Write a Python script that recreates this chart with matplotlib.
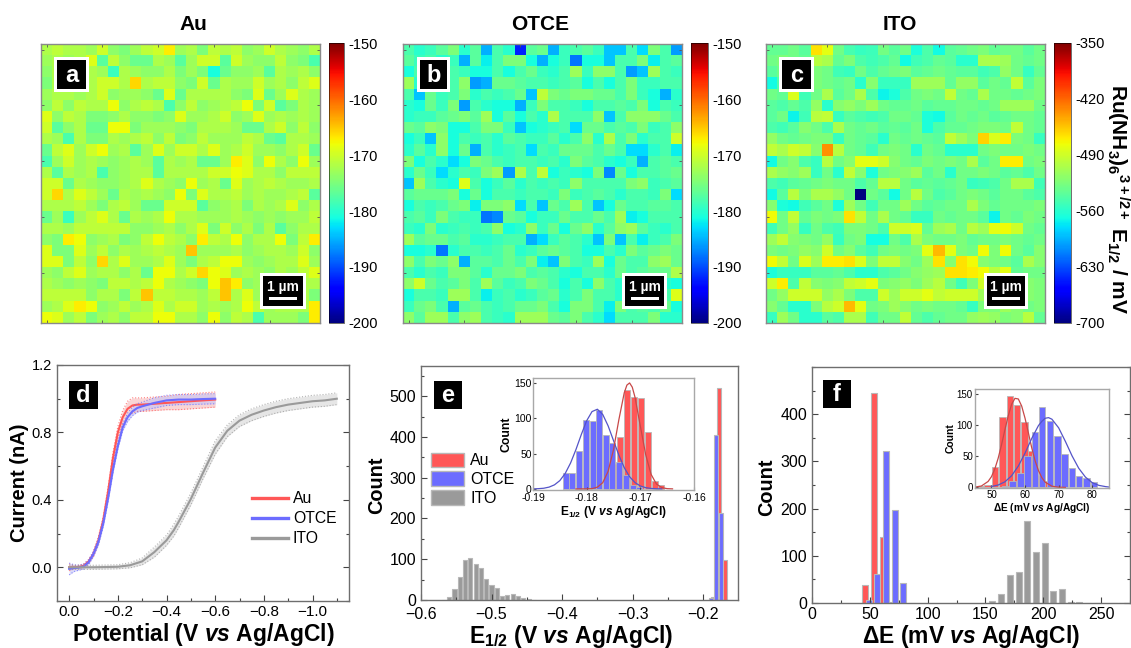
import matplotlib as mpl
mpl.use('Agg')
mpl.rcParams['font.family'] = 'Liberation Sans'
mpl.rcParams['mathtext.fontset'] = 'custom'
mpl.rcParams['mathtext.rm'] = 'Liberation Sans'
mpl.rcParams['mathtext.bf'] = 'Liberation Sans:bold'
mpl.rcParams['mathtext.bfit'] = 'Liberation Sans:italic:bold'
mpl.rcParams['mathtext.it'] = 'Liberation Sans:italic'

import matplotlib.pyplot as plt
from matplotlib.patches import Rectangle, Patch
from matplotlib.lines import Line2D
from matplotlib.ticker import MultipleLocator
import numpy as np

# E1/2 maps, magnitudes in mV (all values are negative)
au_map = [
    [172,171,172,172,173,170,174,175,173,171,170,167,173,172,175,171,172,171,174,173,170,172,173,174,172],
    [173,172,173,172,169,177,171,174,176,176,172,173,177,173,170,170,177,170,173,174,174,171,174,175,178],
    [174,172,173,174,172,173,179,172,173,174,174,172,175,173,175,181,176,174,174,173,177,172,173,172,174],
    [175,172,173,172,172,170,170,172,166,172,171,171,174,175,170,176,172,173,173,170,173,172,174,171,169],
    [173,172,172,173,172,170,174,173,173,174,176,169,176,172,172,172,172,174,175,169,176,173,169,172,173],
    [174,171,174,171,172,172,168,174,172,171,172,178,174,171,174,173,172,171,168,175,170,177,175,172,173],
    [169,174,171,172,175,175,174,172,174,174,175,174,169,173,173,172,170,174,173,169,173,172,173,172,173],
    [170,177,174,172,176,176,168,168,175,173,173,173,174,175,172,172,172,173,176,176,172,170,174,171,174],
    [172,173,178,172,175,175,172,173,172,171,174,171,175,174,171,173,173,173,171,172,176,177,172,172,173],
    [176,171,169,173,170,168,173,172,177,173,169,173,170,170,172,169,173,172,170,173,173,174,172,170,176],
    [178,173,170,173,172,173,174,173,172,173,177,172,173,172,176,176,173,167,169,174,168,172,174,168,173],
    [172,177,172,173,172,178,174,173,172,172,177,172,172,172,172,170,170,168,169,172,172,174,171,171,171],
    [170,170,176,172,173,174,174,173,172,169,172,173,174,168,173,172,176,169,173,172,171,172,173,173,172],
    [170,166,172,169,171,173,176,172,173,172,173,174,168,175,169,172,172,171,173,172,173,173,172,171,177],
    [172,172,172,171,173,175,172,171,173,176,176,170,170,170,177,174,173,172,175,172,173,172,169,174,172],
    [176,173,179,173,171,169,172,176,172,173,172,168,172,172,173,173,173,172,173,174,173,174,173,173,171],
    [172,172,173,171,171,171,171,171,174,174,173,172,174,172,169,175,170,174,172,175,172,177,174,172,172],
    [174,175,167,168,174,173,172,175,174,171,168,171,172,174,167,171,172,168,174,172,172,168,175,171,167],
    [169,175,175,169,173,171,174,172,173,172,171,172,173,165,173,173,173,172,174,173,172,172,173,170,174],
    [169,169,175,171,174,166,172,169,173,173,172,169,173,175,172,171,168,168,173,174,173,172,172,169,173],
    [173,174,171,169,173,172,172,174,172,176,168,168,172,170,166,168,169,173,172,173,174,172,173,171,169],
    [172,173,174,173,174,175,171,171,172,171,168,172,173,174,175,168,165,167,174,173,172,173,172,172,172],
    [171,171,171,171,174,172,172,175,171,165,171,171,172,172,173,171,165,172,169,173,172,172,173,172,175],
    [173,172,169,167,168,174,173,171,173,172,169,172,170,170,173,172,173,172,168,171,173,172,172,172,167],
    [168,169,173,171,175,173,172,174,171,171,168,168,172,172,174,168,174,171,172,178,173,173,173,175,167],
]
otce_map = [
    [178,180,179,177,175,180,177,185,178,180,192,177,176,185,179,178,177,179,184,184,178,183,175,178,186],
    [177,179,178,180,179,185,177,182,178,175,175,181,185,181,179,188,181,181,184,178,178,175,182,178,177],
    [181,178,179,177,178,179,181,181,178,181,178,176,179,180,178,173,179,174,174,178,186,184,173,178,179],
    [173,180,178,179,178,174,186,185,176,176,177,178,178,179,178,177,181,178,181,178,175,179,179,178,178],
    [178,184,176,179,178,175,180,178,179,178,176,184,171,175,176,175,175,176,176,178,175,179,181,185,180],
    [180,181,176,179,175,186,178,180,181,181,185,179,175,178,178,179,181,178,178,177,178,175,181,178,179],
    [180,179,179,177,176,175,177,173,181,177,181,178,180,172,178,178,178,174,184,178,174,174,174,176,178],
    [176,177,174,175,181,181,178,175,175,179,184,181,180,179,178,183,176,176,178,177,178,175,179,178,174],
    [181,179,184,174,181,178,179,178,180,177,178,179,179,177,180,178,174,180,172,178,175,180,178,178,170],
    [180,177,180,174,181,176,185,178,180,179,178,183,178,179,176,176,176,178,176,178,183,183,180,178,182],
    [175,181,178,180,183,181,175,176,178,179,178,178,179,178,180,175,177,178,180,181,179,185,178,177,178],
    [180,176,179,183,180,178,179,175,173,186,172,178,171,181,179,180,181,175,187,176,181,178,178,177,176],
    [184,173,178,180,181,169,178,181,179,177,180,178,179,178,179,174,178,178,178,178,175,174,179,178,177],
    [177,176,176,176,175,181,176,181,178,178,179,178,178,179,175,179,178,177,178,180,178,178,179,175,183],
    [181,178,179,178,176,175,182,175,175,174,183,178,184,176,178,173,178,184,181,176,178,178,177,177,178],
    [178,177,179,175,178,179,179,188,187,176,177,181,179,179,176,178,178,176,178,173,182,181,178,178,178],
    [179,180,175,180,179,178,179,178,174,181,180,174,179,176,181,176,174,180,177,174,173,177,179,180,178],
    [173,177,176,176,178,177,180,180,179,178,178,185,183,179,177,178,180,184,175,184,178,182,179,178,175],
    [181,181,180,188,180,178,178,179,178,176,180,179,177,176,177,178,181,181,178,180,175,177,176,175,176],
    [174,178,175,176,174,185,177,177,178,176,178,175,182,184,175,178,179,173,181,176,178,178,174,173,176],
    [178,180,178,179,175,175,177,180,176,176,175,178,177,178,180,181,178,178,180,176,178,177,176,176,172],
    [174,170,176,178,177,175,178,173,177,179,178,175,176,178,181,178,181,174,178,180,178,178,177,180,181],
    [181,178,178,179,173,173,178,182,179,178,180,179,177,176,180,178,175,178,178,180,178,178,176,178,169],
    [179,176,175,178,185,177,176,178,179,178,176,176,175,178,181,175,175,178,182,175,178,177,178,176,181],
    [174,177,173,173,178,174,173,178,179,180,173,173,173,176,177,175,178,180,183,178,178,178,175,180,180],
]
ito_map = [
    [535,535,530,540,465,480,530,548,555,552,528,540,530,565,545,570,540,535,530,525,535,530,528,540,530],
    [530,525,530,535,500,505,535,525,545,550,545,535,570,550,545,535,540,560,560,505,505,510,530,535,530],
    [540,530,535,540,525,530,550,555,530,545,535,530,525,540,535,530,535,540,540,550,545,515,530,555,535],
    [570,545,540,530,525,530,535,530,560,520,555,555,555,510,510,510,535,515,515,540,530,535,495,540,525],
    [530,535,485,550,530,505,540,530,505,545,572,565,545,530,525,530,495,530,535,505,530,530,535,530,525],
    [540,545,535,545,515,560,520,515,525,510,530,535,535,530,540,535,535,530,530,535,530,510,510,510,530],
    [540,530,572,550,500,495,555,540,545,550,545,530,530,535,565,570,540,530,535,530,540,535,530,530,535],
    [545,550,540,520,530,545,505,530,535,530,540,535,540,530,565,545,535,535,530,525,525,530,495,530,535],
    [515,530,535,530,525,525,555,530,535,540,560,530,535,530,535,540,495,510,525,460,485,470,525,530,555],
    [495,505,490,495,520,435,500,530,535,550,530,525,530,560,530,535,560,560,560,530,525,530,530,525,530],
    [570,530,520,545,555,500,530,520,480,480,490,520,530,535,525,530,525,530,505,540,530,470,470,530,525],
    [505,515,520,510,555,530,560,495,520,565,530,525,520,510,540,530,560,530,530,525,530,540,535,545,530],
    [545,550,540,535,530,525,530,530,545,535,500,500,530,540,535,540,535,530,555,550,545,530,505,505,550],
    [570,540,500,525,505,505,515,530,700,530,540,570,530,500,530,545,540,530,525,530,540,530,530,540,545],
    [520,565,570,550,540,530,565,510,530,550,530,530,510,530,540,535,530,530,505,525,535,530,530,530,525],
    [475,530,495,535,525,530,525,465,495,530,505,530,535,555,555,530,535,530,530,540,572,530,535,525,530],
    [550,530,515,555,530,545,550,525,525,530,545,490,490,485,535,510,505,530,500,510,480,475,490,530,535],
    [510,495,520,525,530,515,555,530,525,568,568,530,545,505,525,530,530,525,535,530,530,525,530,535,530],
    [525,530,525,515,520,490,530,520,540,550,530,525,530,525,480,450,480,525,530,475,525,475,530,540,520],
    [475,495,530,485,510,470,470,465,485,525,495,495,520,530,510,465,520,465,475,520,525,530,540,505,520],
    [565,555,555,555,540,540,535,545,560,560,545,540,530,520,515,510,465,465,470,475,500,480,535,530,530],
    [490,470,545,495,520,525,520,495,490,480,525,520,515,525,510,500,530,550,525,490,510,505,515,520,525],
    [530,515,490,490,490,515,505,525,545,545,490,510,490,490,480,495,490,490,490,510,520,510,515,520,525],
    [520,535,560,560,525,500,490,450,480,530,525,510,520,530,525,530,530,535,555,525,525,510,520,530,525],
    [555,510,530,560,560,540,545,505,505,550,530,530,495,535,545,535,530,530,515,510,515,525,520,500,535],
]

# panel d voltammograms
pot_short = [0, .02, .04, .06, .08, .10, .12, .14, .16, .18, .20, .22, .24, .26, .28, .30, .35, .40, .45, .50, .55, .60]
au_cur = [0, 0, .002, .01, .035, .08, .16, .28, .45, .65, .80, .89, .94, .96, .965, .965, .97, .975, .98, .985, .99, .995]
au_err = [.02, .01, .01, .01, .01, .015, .02, .02, .025, .03, .035, .04, .045, .045, .04, .04, .04, .04, .045, .045, .045, .045]
otce_cur = [-.01, -.005, -.002, .005, .03, .08, .15, .26, .41, .58, .72, .83, .89, .925, .945, .955, .975, .99, .995, .995, .998, 1.0]
otce_err = [.035, .02, .015, .015, .015, .015, .02, .02, .02, .02, .02, .02, .025, .025, .025, .025, .03, .03, .03, .03, .03, .03]
pot_long = [0, .10, .20, .25, .30, .35, .40, .43, .45, .50, .55, .60, .65, .70, .75, .80, .85, .90, .95, 1.0, 1.05, 1.10]
ito_cur = [0, 0, .003, .012, .035, .09, .16, .22, .27, .405, .56, .71, .81, .87, .905, .93, .95, .965, .975, .985, .99, 1.0]
ito_err = [.012, .012, .012, .015, .02, .03, .03, .035, .035, .035, .035, .04, .035, .035, .035, .035, .035, .035, .035, .035, .035, .035]

# panel e histograms
e_au_x = [-.1854, -.1774, -.1698]
e_au_n = [8, 520, 97]
e_otce_x = [-.1887, -.182, -.1745]
e_otce_n = [4, 405, 213]
e_ito_x = [-.5675, -.56, -.5525, -.545, -.5375, -.53, -.5225, -.515, -.5075, -.5, -.4925, -.485, -.4775, -.47, -.4625, -.455, -.4475, -.44]
e_ito_n = [1, 7, 28, 56, 97, 103, 88, 78, 52, 38, 30, 9, 13, 15, 9, 4, 2, 1]

# inset of e
ei_otce_x = [-.1839, -.1827, -.1814, -.1802, -.1789, -.1777, -.1764, -.1752, -.1739, -.1727, -.1714, -.1702]
ei_otce_n = [23, 23, 54, 98, 96, 112, 77, 65, 38, 20, 5, 3]
ei_au_x = [-.1762, -.175, -.1737, -.1725, -.1712, -.1699, -.1686, -.1673, -.1661]
ei_au_n = [5, 35, 73, 140, 130, 129, 80, 11, 5]
ei_otce_fit_x = [-.190, -.189, -.188, -.187, -.186, -.185, -.184, -.183, -.182, -.181, -.180, -.179, -.178, -.177, -.176, -.175, -.174, -.173, -.172, -.171, -.170, -.169, -.168, -.167, -.166]
ei_otce_fit_y = [.1, .4, 1, 2.6, 5.8, 11.8, 21.9, 36.7, 55.7, 77, 96.5, 109.5, 112.8, 105.3, 89.2, 68.5, 47.8, 30.2, 17.3, 9, 4.2, 1.8, .7, .25, .1]
ei_au_fit_x = [-.182, -.180, -.179, -.178, -.177, -.176, -.175, -.174, -.173, -.1725, -.172, -.1715, -.171, -.170, -.169, -.168, -.167, -.166, -.165, -.164]
ei_au_fit_y = [0, .1, .5, 2.5, 8.9, 25, 55.6, 98, 136, 147, 150, 144, 130, 89, 48.5, 20.7, 6.9, 1.9, .4, .1]

# panel f histograms
f_au_x = [46.2, 53.7, 61.3, 68.8]
f_au_n = [38, 445, 139, 3]
f_otce_x = [48.9, 56.4, 63.9, 71.4, 78.6, 86.4]
f_otce_n = [6, 62, 323, 196, 42, 1]
f_ito_x = [155.8, 163.6, 171.1, 178.6, 186.1, 193.6, 201.2, 208.7, 216.2, 223.7, 231.2, 238.7, 246.2, 261, 268]
f_ito_n = [4, 20, 60, 66, 174, 108, 127, 25, 30, 2, 2, 1, 1, 1, 1]

# inset of f
fi_au_x = [46.7, 48.9, 51.1, 53.3, 55.5, 57.6, 59.8, 62, 64.2, 66.3, 68.5]
fi_au_n = [2, 4, 32, 113, 146, 132, 105, 58, 20, 10, 3]
fi_otce_x = [54.2, 56.3, 58.6, 60.8, 63, 65.1, 67.4, 69.6, 71.8, 74, 76.1, 78.3, 80.5]
fi_otce_n = [2, 10, 23, 51, 89, 129, 107, 82, 53, 31, 19, 15, 8]
fi_au_fit_x = [45, 47, 49, 50, 51, 52, 53, 54, 55, 56, 57, 58, 59, 60, 61, 62, 63, 64, 65, 66, 68, 70, 72]
fi_au_fit_y = [.4, 2.2, 9.5, 17.2, 29.5, 46.8, 68.4, 92.5, 115, 133.5, 143, 142, 130.6, 111, 87.4, 63.4, 42.6, 27, 15.6, 8.3, 1.9, .3, 0]
fi_otce_fit_x = [50, 52, 54, 56, 58, 60, 62, 64, 65, 66, 67, 68, 70, 72, 74, 76, 78, 80, 82, 84, 85]
fi_otce_fit_y = [1.4, 3.8, 8.9, 18.7, 34.2, 55, 78.7, 99.3, 106, 111, 112, 109.5, 95.7, 74, 50.6, 30.6, 16.4, 7.6, 3.2, 1.2, .6]

W, H = 1131, 648
RED, BLUE, GREY = '#ff5757', '#6c6cff', '#9a9a9a'
EDGE = '#b8b8b8'
SPINE = '#6e6e6e'

fig = plt.figure(figsize=(W / 100, H / 100), dpi=100)


def px_axes(l, t, r, b):
    return fig.add_axes([l / W, 1 - b / H, (r - l) / W, (b - t) / H])


def px_rect(l, t, r, b, color):
    fig.patches.append(Rectangle((l / W, 1 - b / H), (r - l) / W, (b - t) / H,
                                 transform=fig.transFigure, fc=color, ec='none', figure=fig))


def badge(l, t, r, b, letter, border=0):
    if border:
        px_rect(l - border, t - border, r + border, b + border, 'white')
    px_rect(l, t, r, b, 'black')
    fig.text((l + r) / 2 / W, 1 - ((t + b) / 2 + 0.5) / H, letter, color='white', fontsize=17,
             fontweight='bold', ha='center', va='center')


def scale_badge(l, t, r, b):
    px_rect(l, t, r, b, 'white')
    px_rect(l + 3, t + 3, r - 3, b - 3, 'black')
    cx = (l + r) / 2
    fig.text(cx / W, 1 - (t + 14) / H, '1 µm', color='white', fontsize=10, fontweight='bold',
             ha='center', va='center')
    px_rect(cx - 14, t + 24, cx + 14, t + 27, 'white')


def heatmap(values, left, right, cb_left, cb_right, vmin, vmax, ticks, title, title_x):
    ax = px_axes(left, 44, right, 323)
    im = ax.imshow(-np.array(values), cmap='jet', vmin=vmin, vmax=vmax, aspect='auto', interpolation='nearest')
    ax.set_xticks([0, 5, 10, 15, 20])
    ax.set_yticks([0, 5, 10, 15, 20])
    ax.tick_params(direction='in', length=2, width=.6, color='#555555', top=True, right=True,
                   labelbottom=False, labelleft=False)
    for s in ax.spines.values():
        s.set_color('#8a8a8a')
        s.set_linewidth(1)
    cax = px_axes(cb_left, 43, cb_right, 323)
    cb = fig.colorbar(im, cax=cax)
    cb.set_ticks(ticks)
    cb.set_ticklabels(['%d' % t for t in ticks])
    cb.ax.tick_params(length=0, labelsize=10.5, pad=3.5)
    cb.outline.set_linewidth(.4)
    fig.text(title_x / W, 1 - 25 / H, title, fontsize=15, fontweight='bold', ha='center', va='center')


def style(ax, top=False, right=False):
    ax.tick_params(which='both', direction='in', top=top, right=right, color='#444444', width=.8)
    ax.tick_params(which='major', length=4)
    ax.tick_params(which='minor', length=2)
    for s in ax.spines.values():
        s.set_color(SPINE)
        s.set_linewidth(1)


def axis_labels(ax, xlabel, ylabel, x_x, x_y, y_x, y_y, ysize=14.3):
    ax.set_xlabel(xlabel, fontsize=16.5, fontweight='bold', va='center')
    ax.xaxis.set_label_coords(x_x, x_y)
    ax.set_ylabel(ylabel, fontsize=ysize, fontweight='bold', va='center')
    ax.yaxis.set_label_coords(y_x, y_y)


def hist(ax, x, n, width, color, lw=.8):
    ax.bar(x, n, width=width, color=color, edgecolor=EDGE, linewidth=lw)


# top row
heatmap(au_map, 41, 320, 329, 344, -200, -150, [-150, -160, -170, -180, -190, -200], 'Au', 193)
heatmap(otce_map, 403, 682, 691, 708, -200, -150, [-150, -160, -170, -180, -190, -200], 'OTCE', 540)
heatmap(ito_map, 766, 1045, 1054, 1071, -700, -350, [-350, -420, -490, -560, -630, -700], 'ITO', 900)

badge(57, 60, 86, 89, 'a', 3)
badge(420, 60, 447, 89, 'b', 3)
badge(782, 60, 811, 89, 'c', 3)
scale_badge(260, 273, 306, 309)
scale_badge(622, 273, 667, 309)
scale_badge(984, 273, 1028, 309)

fig.text(1118 / W, 1 - 199 / H, r'Ru(NH$\mathbf{_3}$)$\mathbf{_6}$$\mathbf{^{3+/2+}}$ E$\mathbf{_{1/2}}$ / mV',
         rotation=270, fontsize=15, fontweight='bold', ha='center', va='center')

# panel d
ax = px_axes(57, 365, 349, 601)
x_s = -np.array(pot_short)
x_l = -np.array(pot_long)
for x, y, e, c, band in [(x_s, au_cur, au_err, RED, '#f6b9b9'),
                         (x_s, otce_cur, otce_err, BLUE, '#c4c4f6'),
                         (x_l, ito_cur, ito_err, GREY, '#d6d6d6')]:
    y = np.array(y)
    e = np.array(e)
    ax.fill_between(x, y - e, y + e, color=band, alpha=.6, lw=0)
    ax.plot(x, y + e, ls=':', color=c, lw=.8, alpha=.75)
    ax.plot(x, y - e, ls=':', color=c, lw=.8, alpha=.75)
    ax.plot(x, y, color=c, lw=1.5)
ax.set_xlim(.05, -1.15)
ax.set_ylim(-.2, 1.2)
ax.set_xticks([0, -.2, -.4, -.6, -.8, -1.0])
ax.set_xticklabels(['0.0', '\u22120.2', '\u22120.4', '\u22120.6', '\u22120.8', '\u22121.0'], fontsize=11)
ax.set_yticks([0, .4, .8, 1.2])
ax.set_yticklabels(['0.0', '0.4', '0.8', '1.2'], fontsize=10.5)
ax.xaxis.set_minor_locator(MultipleLocator(.1))
ax.yaxis.set_minor_locator(MultipleLocator(.2))
style(ax, right=True)
ax.tick_params(axis='x', which='both', pad=3)
axis_labels(ax, r'Potential (V $\mathbfit{vs}$ Ag/AgCl)', 'Current (nA)', .5, -.144, -.130, .5, 14.5)
ax.legend(handles=[Line2D([], [], color=RED, lw=2.4, label='Au'),
                   Line2D([], [], color=BLUE, lw=2.4, label='OTCE'),
                   Line2D([], [], color=GREY, lw=2.4, label='ITO')],
          loc='upper left', bbox_to_anchor=(.668, .466), frameon=False, fontsize=11.3,
          handlelength=2.3, handletextpad=.3, labelspacing=.33, borderpad=0, borderaxespad=0)
badge(69, 381, 98, 409, 'd')

# panel e
ax = px_axes(421, 366, 738, 600)
hist(ax, e_au_x, e_au_n, .0062, RED)
hist(ax, e_otce_x, e_otce_n, .0062, BLUE)
hist(ax, e_ito_x, e_ito_n, .0058, GREY)
ax.set_xlim(-.598, -.1505)
ax.set_ylim(0, 574)
ax.set_xticks([-.6, -.5, -.4, -.3, -.2])
ax.set_xticklabels(['\u22120.6', '\u22120.5', '\u22120.4', '\u22120.3', '\u22120.2'], fontsize=11.5)
ax.set_yticks([0, 100, 200, 300, 400, 500])
ax.tick_params(axis='y', labelsize=11.5)
ax.xaxis.set_minor_locator(MultipleLocator(.05))
ax.yaxis.set_minor_locator(MultipleLocator(50))
style(ax)
ax.tick_params(axis='x', which='both', pad=5)
axis_labels(ax, r'E$\mathbf{_{1/2}}$ (V $\mathbfit{vs}$ Ag/AgCl)', 'Count', .473, -.154, -.139, .49)
ax.legend(handles=[Patch(fc=RED, ec=EDGE, label='Au'), Patch(fc=BLUE, ec=EDGE, label='OTCE'),
                   Patch(fc=GREY, ec=EDGE, label='ITO')],
          loc='upper left', bbox_to_anchor=(.03, .63), frameon=False, fontsize=11.5,
          handlelength=2.1, handleheight=1.05, handletextpad=.4, labelspacing=.18, borderpad=0, borderaxespad=0)
badge(434, 381, 462, 409, 'e')

axi = px_axes(533, 378, 694, 490)
hist(axi, ei_au_x, ei_au_n, .00112, RED, .6)
hist(axi, ei_otce_x, ei_otce_n, .00112, BLUE, .6)
axi.plot(ei_otce_fit_x, ei_otce_fit_y, color='#5454c8', lw=.9)
axi.plot(ei_au_fit_x, ei_au_fit_y, color='#c84848', lw=.9)
axi.set_xlim(-.19, -.16)
axi.set_ylim(-1.5, 157)
axi.set_xticks([-.19, -.18, -.17, -.16])
axi.set_xticklabels(['-0.19', '-0.18', '-0.17', '-0.16'], fontsize=7.5)
axi.set_yticks([0, 50, 100, 150])
axi.tick_params(axis='y', labelsize=7.5, pad=1)
axi.tick_params(axis='x', pad=2)
style(axi)
axi.tick_params(which='major', length=2)
for s in axi.spines.values():
    s.set_color('#a8a8a8')
axi.set_xlabel(r'E$\mathbf{_{1/2}}$ (V $\mathbfit{vs}$ Ag/AgCl)', fontsize=8.6, fontweight='bold', labelpad=1)
axi.set_ylabel('Count', fontsize=8.8, fontweight='bold', labelpad=1)

# panel f
ax = px_axes(812, 367, 1130, 603)
hist(ax, f_au_x, f_au_n, 5.2, RED)
hist(ax, f_otce_x, f_otce_n, 5.2, BLUE)
hist(ax, f_ito_x, f_ito_n, 5.2, GREY)
ax.set_xlim(0, 275)
ax.set_ylim(0, 500)
ax.set_xticks([0, 50, 100, 150, 200, 250])
ax.set_yticks([0, 100, 200, 300, 400])
ax.tick_params(axis='both', labelsize=11.5)
ax.xaxis.set_minor_locator(MultipleLocator(25))
ax.yaxis.set_minor_locator(MultipleLocator(50))
style(ax, right=True)
ax.tick_params(axis='x', which='both', pad=3)
axis_labels(ax, r'ΔE (mV $\mathbfit{vs}$ Ag/AgCl)', 'Count', .5, -.14, -.142, .49)
badge(823, 380, 851, 408, 'f')

axi = px_axes(975, 389, 1109, 488)
hist(axi, fi_au_x, fi_au_n, 1.95, RED, .6)
hist(axi, fi_otce_x, fi_otce_n, 1.95, BLUE, .6)
axi.plot(fi_au_fit_x, fi_au_fit_y, color='#c84848', lw=.9)
axi.plot(fi_otce_fit_x, fi_otce_fit_y, color='#5454c8', lw=.9)
axi.set_xlim(45.1, 85)
axi.set_ylim(-1, 158)
axi.set_xticks([50, 60, 70, 80])
axi.set_yticks([0, 50, 100, 150])
axi.tick_params(axis='both', labelsize=7, pad=1.5)
style(axi)
axi.tick_params(which='major', length=2)
for s in axi.spines.values():
    s.set_color('#a8a8a8')
axi.set_xlabel(r'ΔE (mV $\mathbfit{vs}$ Ag/AgCl)', fontsize=7.3, fontweight='bold', labelpad=1)
axi.set_ylabel('Count', fontsize=7.5, fontweight='bold', labelpad=1)

fig.savefig('out.png', dpi=100)
